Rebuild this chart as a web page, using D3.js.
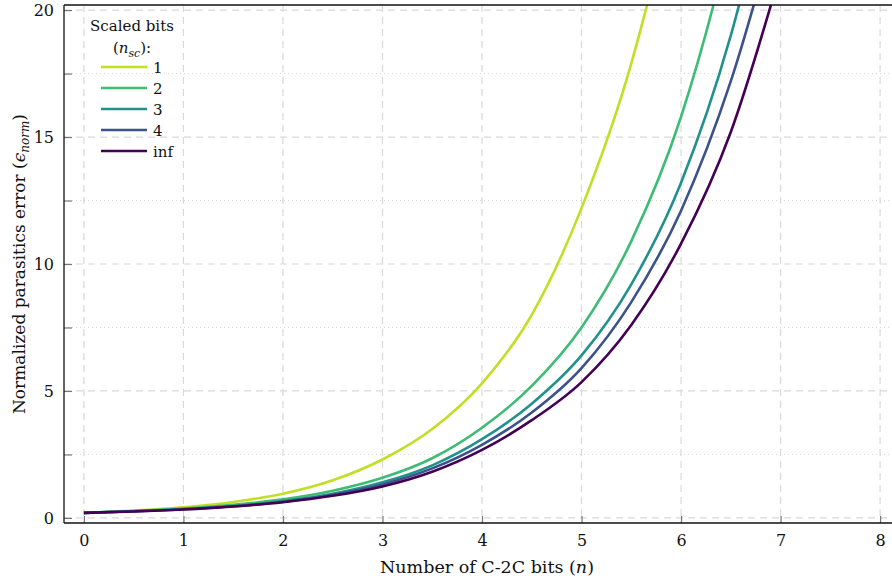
<!DOCTYPE html>
<html>
<head>
<meta charset="utf-8">
<script src="https://cdn.jsdelivr.net/npm/d3@7"></script>
<style>
  body { margin: 0; background: #fff; }
  text { font-family: "DejaVu Serif", "Liberation Serif", serif; fill: #111; }
</style>
</head>
<body>
<svg id="chart"></svg>
<script>
// values at every half bit (curves run out of the top at 20.2)
var nBits = [0, 0.5, 1, 1.5, 2, 2.5, 3, 3.5, 4, 4.5, 5, 5.5, 6, 6.5, 7];
var nsc1   = [0.2, 0.29, 0.42, 0.63, 0.95, 1.48, 2.3, 3.5, 5.3, 8.0, 12.2, 17.9, 26, 37, 52];
var nsc2   = [0.2, 0.27, 0.37, 0.52, 0.73, 1.07, 1.58, 2.35, 3.55, 5.2, 7.5, 10.9, 15.8, 23, 33];
var nsc3   = [0.2, 0.26, 0.35, 0.47, 0.66, 0.95, 1.4, 2.07, 3.1, 4.5, 6.4, 9.2, 13.2, 19.0, 27];
var nsc4   = [0.2, 0.26, 0.34, 0.46, 0.64, 0.91, 1.32, 1.95, 2.88, 4.15, 5.9, 8.5, 12.1, 17.2, 24];
var nscInf = [0.2, 0.25, 0.33, 0.45, 0.62, 0.87, 1.24, 1.82, 2.68, 3.85, 5.35, 7.6, 10.8, 15.2, 21.5];

var seriesNames = ["1", "2", "3", "4", "inf"];
var seriesColors = ["#c0df25", "#3dbc74", "#21918c", "#3b528b", "#440154"];
var xTicks = [0, 1, 2, 3, 4, 5, 6, 7, 8];
var yTicks = [0, 5, 10, 15, 20];
var yMinorTicks = [2.5, 7.5, 12.5, 17.5];

var allSeries = [nsc1, nsc2, nsc3, nsc4, nscInf];

var width = 892, height = 585;
var plotL = 64, plotR = 900, plotT = 5, plotB = 523;

var svg = d3.select("#chart")
    .attr("width", width)
    .attr("height", height);

var x = d3.scaleLinear().domain([-0.2, 8.2]).range([plotL, plotR]);
var y = d3.scaleLinear().domain([-0.2, 20.2]).range([plotB, plotT]);

svg.append("clipPath").attr("id", "plotclip")
  .append("rect")
    .attr("x", plotL).attr("y", plotT)
    .attr("width", plotR - plotL).attr("height", plotB - plotT);

// grid
var grid = svg.append("g");
grid.selectAll(".vgrid")
    .data(xTicks)
    .enter().append("line")
    .attr("x1", function(d) { return x(d); })
    .attr("x2", function(d) { return x(d); })
    .attr("y1", plotT).attr("y2", plotB)
    .attr("stroke", "#d9d9d9")
    .attr("stroke-width", 1.2)
    .attr("stroke-dasharray", "7,5");
grid.selectAll(".hgrid")
    .data(yTicks)
    .enter().append("line")
    .attr("x1", plotL).attr("x2", plotR)
    .attr("y1", function(d) { return y(d); })
    .attr("y2", function(d) { return y(d); })
    .attr("stroke", "#d9d9d9")
    .attr("stroke-width", 1.2)
    .attr("stroke-dasharray", "7,5");
grid.selectAll(".hminor")
    .data(yMinorTicks)
    .enter().append("line")
    .attr("x1", plotL).attr("x2", plotR)
    .attr("y1", function(d) { return y(d); })
    .attr("y2", function(d) { return y(d); })
    .attr("stroke", "#d6d6d6")
    .attr("stroke-width", 1)
    .attr("stroke-dasharray", "1,3");

// axes (ticks point inward, grey)
var xAxis = d3.axisBottom(x).tickValues(xTicks).tickSize(-7).tickPadding(12);
var yAxis = d3.axisLeft(y).tickValues(yTicks).tickSize(-8).tickPadding(10);
var yMinorAxis = d3.axisLeft(y).tickValues(yMinorTicks).tickSize(-8).tickFormat("");

function styleAxis(g) {
  g.select(".domain").remove();
  g.selectAll(".tick line").attr("stroke", "#777").attr("stroke-width", 1.2);
  g.selectAll(".tick text").style("font-size", "16px").attr("fill", "#111");
}

svg.append("g")
    .attr("transform", "translate(0," + plotB + ")")
    .call(xAxis)
    .call(styleAxis);
svg.append("g")
    .attr("transform", "translate(" + plotL + ",0)")
    .call(yAxis)
    .call(styleAxis);
svg.append("g")
    .attr("transform", "translate(" + plotL + ",0)")
    .call(yMinorAxis)
    .call(styleAxis);

// curves
var line = d3.line()
    .x(function(d, i) { return x(nBits[i]); })
    .y(function(d) { return y(d); })
    .curve(d3.curveMonotoneX);

svg.append("g")
    .attr("clip-path", "url(#plotclip)")
  .selectAll("path")
    .data(allSeries)
    .enter().append("path")
    .attr("d", line)
    .attr("fill", "none")
    .attr("stroke", function(d, i) { return seriesColors[i]; })
    .attr("stroke-width", 2.6);

// frame: left, top, bottom (right edge falls outside the picture)
var frame = svg.append("g").attr("stroke", "#111").attr("stroke-width", 1.3);
frame.append("line").attr("x1", plotL).attr("x2", plotL).attr("y1", plotT).attr("y2", plotB);
frame.append("line").attr("x1", plotL).attr("x2", plotR).attr("y1", plotT).attr("y2", plotT);
frame.append("line").attr("x1", plotL).attr("x2", plotR).attr("y1", plotB).attr("y2", plotB);

// axis titles
var xTitle = svg.append("text")
    .attr("x", (x(0) + x(8)) / 2 + 5)
    .attr("y", 573)
    .attr("text-anchor", "middle")
    .style("font-size", "17.5px");
xTitle.append("tspan").text("Number of C-2C bits (");
xTitle.append("tspan").style("font-style", "italic").text("n");
xTitle.append("tspan").text(")");

var yTitle = svg.append("text")
    .attr("transform", "translate(25," + ((plotT + plotB) / 2) + ") rotate(-90)")
    .attr("text-anchor", "middle")
    .style("font-size", "17px");
yTitle.append("tspan").text("Normalized parasitics error (");
yTitle.append("tspan").style("font-style", "italic").text("\u03F5");
yTitle.append("tspan").style("font-style", "italic").style("font-size", "12px").attr("dy", 4).text("norm");
yTitle.append("tspan").attr("dy", -4).text(")");

// legend
var legend = svg.append("g");
legend.append("text")
    .attr("x", 132).attr("y", 31)
    .attr("text-anchor", "middle")
    .style("font-size", "15px")
    .text("Scaled bits");
var legSub = legend.append("text")
    .attr("x", 132).attr("y", 53)
    .attr("text-anchor", "middle")
    .style("font-size", "15px");
legSub.append("tspan").text("(");
legSub.append("tspan").style("font-style", "italic").text("n");
legSub.append("tspan").style("font-style", "italic").style("font-size", "11px").attr("dy", 4).text("sc");
legSub.append("tspan").attr("dy", -4).text("):");

var legItems = legend.selectAll(".leg")
    .data(seriesNames)
    .enter().append("g")
    .attr("transform", function(d, i) { return "translate(101," + (67 + i * 21) + ")"; });
legItems.append("line")
    .attr("x1", 0).attr("x2", 46)
    .attr("stroke", function(d, i) { return seriesColors[i]; })
    .attr("stroke-width", 2.6);
legItems.append("text")
    .attr("x", 52).attr("y", 6)
    .style("font-size", "15px")
    .text(function(d) { return d; });
</script>
</body>
</html>
